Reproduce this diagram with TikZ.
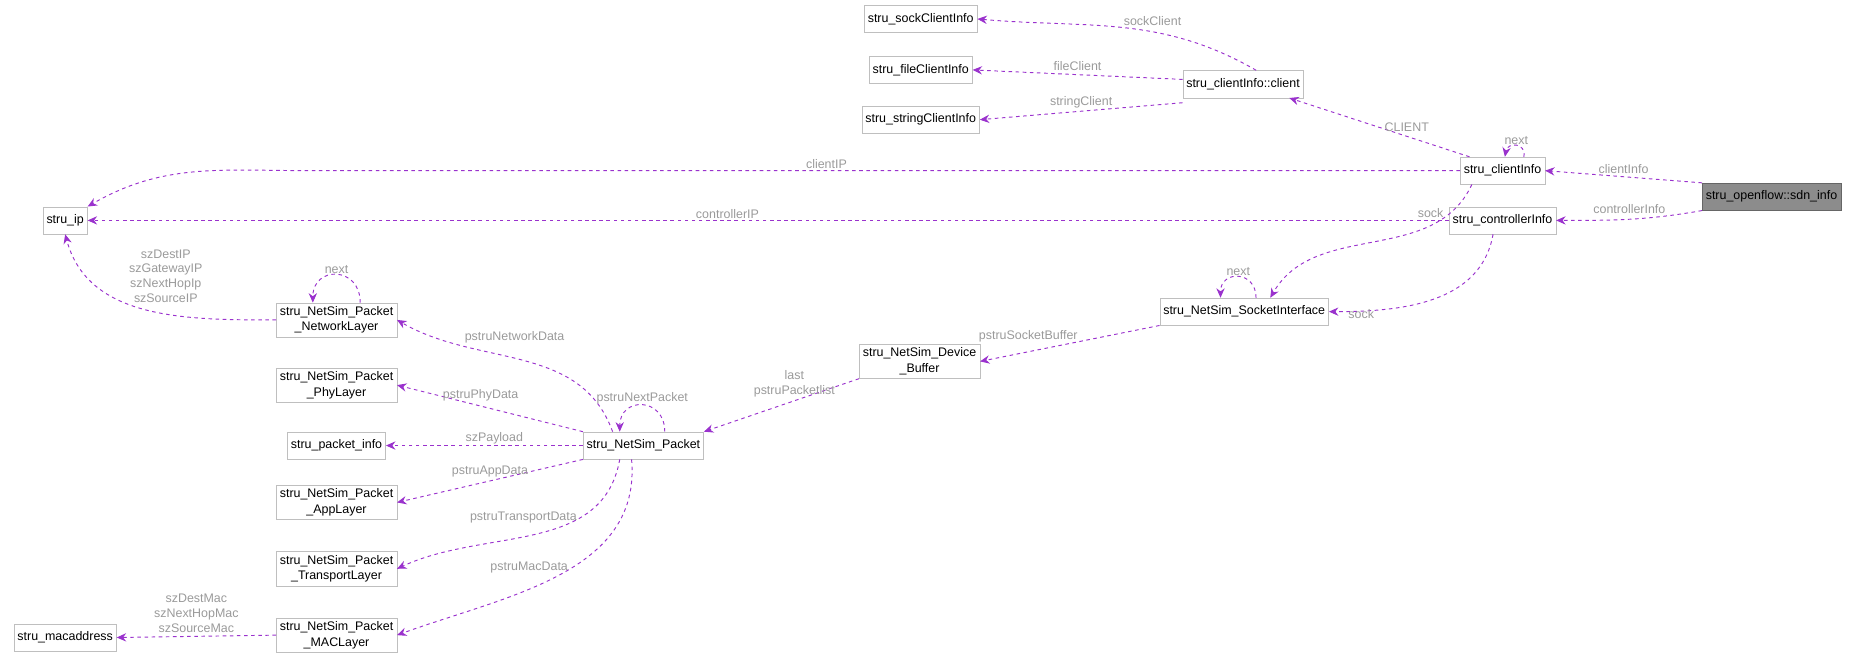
\documentclass[tikz,border=0pt]{standalone}
\usepackage{fontspec}
\setmainfont{Liberation Sans}
\usetikzlibrary{arrows.meta,positioning}
\definecolor{edgecol}{HTML}{9A32CD}
\definecolor{lblcol}{HTML}{9A9A9A}
\definecolor{boxcol}{HTML}{BFBFBF}
\tikzset{
  cls/.style={draw=boxcol,fill=white,inner sep=3pt,minimum height=23pt,font=\fontsize{10.5}{13}\selectfont,align=center},
  rel/.style={draw=edgecol,dashed,thick,-{Stealth[length=8pt,width=7pt]}},
  lbl/.style={text=lblcol,font=\fontsize{10.5}{12.5}\selectfont,align=center,inner sep=1pt},
}
\begin{document}
\begin{tikzpicture}[x=1pt,y=-1pt]
	\useasboundingbox (0,0) rectangle (1568,560);
	% classes
	\node[cls,fill=black!45,draw=black!60] (sdn) at (1495,166) {stru\_openflow::sdn\_info};
	\node[cls] (clientInfo) at (1268,144) {stru\_clientInfo};
	\node[cls] (ctrlInfo) at (1268,186) {stru\_controllerInfo};
	\node[cls] (client) at (1049,71) {stru\_clientInfo::client};
	\node[cls] (sockCI) at (777,16) {stru\_sockClientInfo};
	\node[cls] (fileCI) at (777,59) {stru\_fileClientInfo};
	\node[cls] (strCI) at (777,101) {stru\_stringClientInfo};
	\node[cls] (ip) at (55,186) {stru\_ip};
	\node[cls] (sock) at (1050,263) {stru\_NetSim\_SocketInterface};
	\node[cls] (buf) at (776,305) {stru\_NetSim\_Device\\\_Buffer};
	\node[cls] (net) at (284,270) {stru\_NetSim\_Packet\\\_NetworkLayer};
	\node[cls] (phy) at (284,325) {stru\_NetSim\_Packet\\\_PhyLayer};
	\node[cls] (pinfo) at (284,376) {stru\_packet\_info};
	\node[cls] (pkt) at (543,376) {stru\_NetSim\_Packet};
	\node[cls] (app) at (284,424) {stru\_NetSim\_Packet\\\_AppLayer};
	\node[cls] (trans) at (284,480) {stru\_NetSim\_Packet\\\_TransportLayer};
	\node[cls] (mac) at (284,536) {stru\_NetSim\_Packet\\\_MACLayer};
	\node[cls] (macaddr) at (55,538) {stru\_macaddress};

	% relations
	\draw[rel] (sdn.north west) -- node[lbl,above=1pt] {clientInfo} (clientInfo.east);
	\draw[rel] (sdn.south west) to[out=190,in=0] node[lbl,above=3pt] {controllerInfo} (ctrlInfo.east);
	\draw[rel] ([xshift=8pt]clientInfo.north west) -- node[lbl,right=3pt] {CLIENT} ([xshift=-12pt]client.south east);
	\draw[rel] ([xshift=18pt]clientInfo.north) to[out=80,in=80,looseness=2] node[lbl,above] {next} ([xshift=-18pt+20pt]clientInfo.north);
	\draw[rel] ([xshift=-40pt]client.north east) to[out=150,in=-5] node[lbl,above right] {sockClient} (sockCI.east);
	\draw[rel] ([yshift=4pt]client.west) -- node[lbl,above=2pt] {fileClient} (fileCI.east);
	\draw[rel] ([yshift=-4pt]client.south west) -- node[lbl,above=1pt] {stringClient} (strCI.east);
	\draw[rel] (clientInfo.west) -- node[lbl,above=0pt,pos=.55] {clientIP} (260,144) to[out=180,in=30] (ip.north east);
	\draw[rel] (ctrlInfo.west) -- node[lbl,above=0pt,pos=.53] {controllerIP} (ip.east);
	\draw[rel] ([xshift=10pt]clientInfo.south west) to[out=-115,in=60] node[lbl,pos=.15,left=4pt] {sock} ([xshift=22pt]sock.north);
	\draw[rel] ([xshift=-8pt]ctrlInfo.south) to[out=-100,in=0] node[lbl,pos=.75,left=6pt,yshift=-4pt] {sock} (sock.east);
	\draw[rel] ([xshift=10pt]sock.north) to[out=90,in=90,looseness=2] node[lbl,above] {next} ([xshift=-20pt]sock.north);
	\draw[rel] (sock.south west) -- node[lbl,above left=0pt and -8pt] {pstruSocketBuffer} (buf.east);
	\draw[rel] (buf.south west) -- node[lbl,pos=.1,left=6pt] {last\\pstruPacketlist} (pkt.north east);
	\draw[rel] ([xshift=18pt]pkt.north) to[out=90,in=90,looseness=2] node[lbl,above] {pstruNextPacket} ([xshift=-20pt]pkt.north);
	\draw[rel] ([xshift=-26pt]pkt.north) to[out=110,in=-30] node[lbl,pos=.75,above right=0pt and 2pt] {pstruNetworkData} (net.east);
	\draw[rel] (pkt.north west) -- node[lbl,pos=.55,above=3pt] {pstruPhyData} (phy.east);
	\draw[rel] (pkt.west) -- node[lbl,pos=.45,above=0pt] {szPayload} (pinfo.east);
	\draw[rel] (pkt.south west) -- node[lbl,pos=.5,above=2pt] {pstruAppData} (app.east);
	\draw[rel] ([xshift=-20pt]pkt.south) to[out=-100,in=25] node[lbl,pos=.3,left=2pt] {pstruTransportData} (trans.east);
	\draw[rel] ([xshift=-10pt]pkt.south) to[out=-85,in=20] node[lbl,pos=.45,left=2pt] {pstruMacData} (mac.east);
	\draw[rel] (net.west) to[out=180,in=-75] node[lbl,pos=.25,above left=12pt and 4pt] {szDestIP\\szGatewayIP\\szNextHopIp\\szSourceIP} (ip.south);
	\draw[rel] ([xshift=20pt]net.north) to[out=90,in=90,looseness=2] node[lbl,above] {next} ([xshift=-20pt]net.north);
	\draw[rel] (mac.west) -- node[lbl,pos=.5,above=2pt] {szDestMac\\szNextHopMac\\szSourceMac} (macaddr.east);
\end{tikzpicture}
\end{document}
